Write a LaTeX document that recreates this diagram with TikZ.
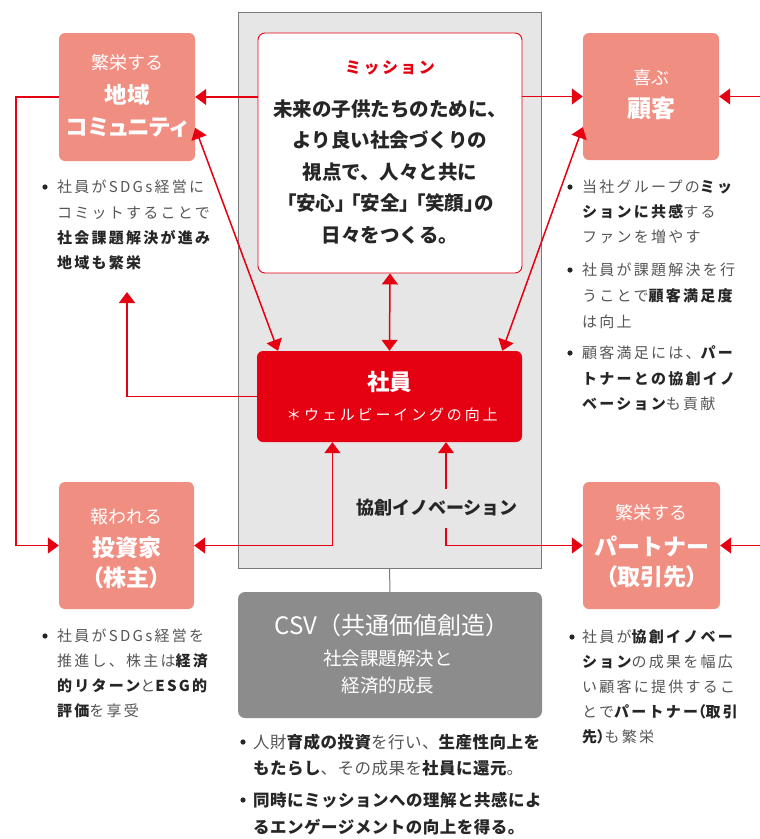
\documentclass[tikz,border=0pt]{standalone}
\usepackage{fontspec}
\usetikzlibrary{arrows.meta,calc}
\setmainfont{Noto Sans CJK JP}
\newfontfamily\spf{Noto Sans CJK JP}[LetterSpace=15]
\newfontfamily\spfp{Noto Sans CJK JP}[LetterSpace=15,RawFeature=+palt]
\newfontfamily\wsp{Noto Sans CJK JP}[LetterSpace=19]
\newfontfamily\bcf{Noto Sans CJK JP}[LetterSpace=3]
\newfontfamily\pal{Noto Sans CJK JP}[RawFeature=+palt]
\definecolor{salmon}{HTML}{F08E82}
\definecolor{jred}{HTML}{E50012}
\definecolor{bggray}{HTML}{E6E6E6}
\definecolor{framegray}{HTML}{7A7A7A}
\definecolor{csvgray}{HTML}{8C8C8C}
\definecolor{tgray}{HTML}{555555}
\definecolor{tdark}{HTML}{262626}
\newcommand{\hb}[1]{{\bfseries\color{tdark}#1}}
\begin{document}
\begin{tikzpicture}[x=1pt,y=-1pt,
  >={Triangle[length=11pt,width=16pt]},
  arr/.style={draw=jred, line width=1.5pt, ->},
  darr/.style={draw=jred, line width=1.5pt, <->},
  gline/.style={draw=framegray, line width=1pt},
  pbox/.style={fill=salmon, rounded corners=6pt, minimum width=136pt, minimum height=128pt, inner sep=0pt},
  th/.style={inner sep=0pt, text height={0.88*#1pt}, text depth={0.12*#1pt}},
  wt/.style={th=18, font=\fontsize{18}{18}\selectfont, text=white},
  wb/.style={th=22.5, font=\bfseries\fontsize{22.5}{22.5}\selectfont, text=white},
  col/.style={th=15, anchor=west, font=\spf\fontsize{15}{15}\selectfont, text=tgray},
  bc/.style={th=16.5, anchor=west, font=\bcf\fontsize{16.5}{16.5}\selectfont, text=tgray},
  mline/.style={th=19.5, font=\bfseries\fontsize{19.5}{19.5}\selectfont, text=tdark},
  dot/.style={fill=tdark}
]
\useasboundingbox (0,0) rectangle (760,839);

% background panel
\node[draw=framegray, line width=1pt, fill=bggray, minimum width=303pt, minimum height=556pt, inner sep=0pt] (bg) at (389.5,290) {};

% mission
\node[draw=jred, line width=0.9pt, fill=white, rounded corners=7pt, minimum width=264pt, minimum height=240pt, inner sep=0pt] (mission) at (390,153) {};
\node[th=16, font=\spf\bfseries\fontsize{16}{16}\selectfont, text=jred] (mtitle) at (390,67) {ミッション};
\node[mline] (m1) at (390,109) {未来の子供たちのために、};
\node[mline] (m2) at (390,140.5) {より良い社会づくりの};
\node[mline] (m3) at (390,172) {視点で、人々と共に};
\node[mline, font=\pal\bfseries\fontsize{19.5}{19.5}\selectfont] (m4) at (390,203.5) {「安心」\kern6pt「安全」\kern6pt「笑顔」の};
\node[mline] (m5) at (390,235) {日々をつくる。};

% community
\node[pbox] (community) at (127,97) {};
\node[wt] (c1) at (127,63) {繁栄する};
\node[wb] (c2) at (127,95) {地域};
\node[wb, font=\pal\bfseries\fontsize{22.5}{22.5}\selectfont] (c3) at (127,127) {コミュニティ};

% customer
\node[pbox, minimum height=127pt] (customer) at (651,96.5) {};
\node[wt] (u1) at (651,78) {喜ぶ};
\node[wb, th=24, font=\bfseries\fontsize{24}{24}\selectfont] (u2) at (651,108) {顧客};

% employees
\node[fill=jred, rounded corners=6pt, minimum width=265pt, minimum height=91pt, inner sep=0pt] (shain) at (389.5,396.5) {};
\node[wb] (s1) at (389.5,382) {社員};
\node[th=15, font=\wsp\fontsize{15}{15}\selectfont, text=white] (s2) at (392,415) {＊ウェルビーイングの向上};

% investor
\node[pbox, minimum width=135pt, minimum height=127pt] (investor) at (126.5,545.5) {};
\node[wt] (i1) at (126.5,517) {報われる};
\node[wb, th=23, font=\bfseries\fontsize{23}{23}\selectfont] (i2) at (126.5,548) {投資家};
\node[wb, th=23, font=\pal\bfseries\fontsize{23}{23}\selectfont] (i3) at (126.5,578) {（株主）};

% partner
\node[pbox, minimum width=137pt, minimum height=127pt] (partner) at (651.5,545.5) {};
\node[wt] (p1) at (651.5,513) {繁栄する};
\node[wb, th=23, font=\bfseries\fontsize{23}{23}\selectfont] (p2) at (651.5,547) {パートナー};
\node[wb, th=23, font=\pal\bfseries\fontsize{23}{23}\selectfont] (p3) at (651.5,577) {（取引先）};

% CSV
\node[fill=csvgray, rounded corners=7pt, minimum width=304pt, minimum height=126pt, inner sep=0pt] (csv) at (390,655) {};
\node[th=24, font=\fontsize{24}{24}\selectfont, text=white] (v1) at (392,625) {CSV（共通価値創造）};
\node[th=18.5, font=\fontsize{18.5}{18.5}\selectfont, text=white] (v2) at (388,658) {社会課題解決と};
\node[th=18.5, font=\fontsize{18.5}{18.5}\selectfont, text=white] (v3) at (388,685) {経済的成長};

% innovation label
\node[th=18, font=\bfseries\fontsize{18}{18}\selectfont, text=tdark] (kyoso) at (437,508) {協創イノベーション};

% helper coordinates
\coordinate (R) at (760,0);
\coordinate (L) at (16,0);
\coordinate (up) at (127,292);
\coordinate (k1) at (446,489);
\coordinate (k2) at (446,528);

% connectors
\draw[gline] (bg.south) -- (csv.north);
\draw[arr] (community.east -| mission.west) -- (community.east);
\draw[arr] (customer.west -| mission.east) -- (customer.west);
\draw[arr] (customer.east -| R) -- (customer.east);
\draw[darr] ($(community.south east)!0.26!(community.north east)$) -- ($(shain.north west)!0.08!(shain.north east)$);
\draw[darr] ($(customer.south west)!0.26!(customer.north west)$) -- ($(shain.north west)!0.925!(shain.north east)$);
\draw[darr] (mission.south) -- (shain.north);
\draw[arr] (shain.west) -| (up);
\draw[arr] (community.west) -- (community.west -| L) |- (investor.west);
\draw[darr] (investor.east) -| ($(shain.south west)!0.285!(shain.south east)$);
\draw[arr] (k1) -- (k1 |- shain.south);
\draw[arr] (k2) |- (partner.west);
\draw[arr] (partner.east -| R) -- (partner.east);

% left top bullets
\fill[dot] (45,187) circle (2.6);
\node[col] (a1) at (57,187) {社員がSDGs経営に};
\node[col] (a2) at (57,213) {コミットすることで};
\node[col] (a3) at (57,238) {\hb{社会課題解決が進み}};
\node[col] (a4) at (57,263) {\hb{地域も繁栄}};

% right top bullets
\fill[dot] (570,187) circle (2.6);
\node[col] (b1) at (582,187) {当社グループの\hb{ミッ}};
\node[col] (b2) at (582,212) {\hb{ションに共感}する};
\node[col] (b3) at (582,237) {ファンを増やす};
\fill[dot] (570,270) circle (2.6);
\node[col] (b4) at (582,270) {社員が課題解決を行};
\node[col] (b5) at (582,296) {うことで\hb{顧客満足度}};
\node[col] (b6) at (582,322) {は向上};
\fill[dot] (570,353) circle (2.6);
\node[col] (b7) at (582,353) {顧客満足には、\hb{パー}};
\node[col] (b8) at (582,379) {\hb{トナーとの協創イノ}};
\node[col] (b9) at (582,404) {\hb{ベーション}も貢献};

% left bottom bullets
\fill[dot] (45,636) circle (2.6);
\node[col] (d1) at (57,636) {社員がSDGs経営を};
\node[col] (d2) at (57,661) {推進し、株主は\hb{経済}};
\node[col] (d3) at (57,686) {\hb{的リターン}と\hb{ESG的}};
\node[col] (d4) at (57,711) {\hb{評価}を享受};

% right bottom bullets
\fill[dot] (572,637) circle (2.6);
\node[col] (e1) at (582,637) {社員が\hb{協創イノベー}};
\node[col] (e2) at (582,662) {\hb{ション}の成果を幅広};
\node[col] (e3) at (582,687) {い顧客に提供するこ};
\node[col] (e4) at (582,712) {とで\hb{パートナー{\spfp （}取引}};
\node[col] (e5) at (582,737) {\hb{先{\spfp ）}}も繁栄};

% bottom center bullets
\fill[dot] (243,742) circle (2.6);
\node[bc] (f1) at (253,742) {人財\hb{育成の投資}を行い、\hb{生産性向上を}};
\node[bc] (f2) at (253,768) {\hb{もたらし}、その成果を\hb{社員に還元}。};
\fill[dot] (243,800) circle (2.6);
\node[bc] (f3) at (253,800) {\hb{同時にミッションへの理解と共感によ}};
\node[bc] (f4) at (253,827) {\hb{るエンゲージメントの向上を得る。}};
\end{tikzpicture}
\end{document}
